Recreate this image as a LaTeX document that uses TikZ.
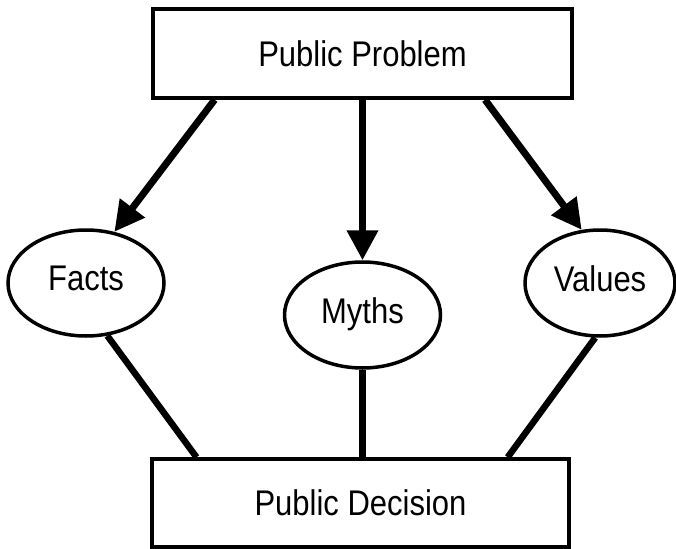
\documentclass[tikz,border=0pt]{standalone}
\usepackage{fontspec}
\setmainfont{Liberation Sans}
\usetikzlibrary{calc,arrows.meta,shapes.geometric}
\newcommand{\tallfont}[1]{\scalebox{1}[1.15]{#1}}
\tikzset{
    block/.style = {draw, rectangle, line width=3.5pt, inner sep=0pt,
        font=\fontsize{31}{36}\selectfont},
    bubble/.style = {draw, ellipse, line width=3.5pt, inner sep=0pt,
        minimum width=156pt, minimum height=106pt, text depth=9pt,
        font=\fontsize{31}{36}\selectfont},
    arrow/.style = {draw, line width=7pt, -{Triangle[length=30pt,width=30pt]}},
    link/.style = {draw, line width=6.5pt}
}
\begin{document}
\begin{tikzpicture}[x=1pt,y=-1pt]
    \useasboundingbox (0,0) rectangle (676,548);
    \node [block, minimum width=419pt, minimum height=89pt] (problem) at (362.5,53.5) {\tallfont{Public Problem}};
    \node [bubble] (facts) at (86,283) {\tallfont{Facts}};
    \node [bubble] (myths) at (362.5,315) {\tallfont{Myths}};
    \node [bubble, minimum width=150pt] (values) at (600,283) {\tallfont{Values}};
    \node [block, minimum width=417pt, minimum height=88pt] (decision) at (360.5,503) {\tallfont{Public Decision}};
    % problem -> facts, myths, values
    \draw [arrow] ($(problem.south west)!0.15!(problem.south east)$) -- (facts.61);
    \draw [arrow] (problem.south) -- (myths.north);
    \draw [arrow] ($(problem.south west)!0.79!(problem.south east)$) -- (values.109);
    % everything feeds the decision
    \draw [link] (facts.292) -- ($(decision.north west)!0.11!(decision.north east)$);
    \draw [link] (myths.south) -- (decision.north -| myths.south);
    \draw [link] (values.265) -- ($(decision.north west)!0.85!(decision.north east)$);
\end{tikzpicture}
\end{document}
